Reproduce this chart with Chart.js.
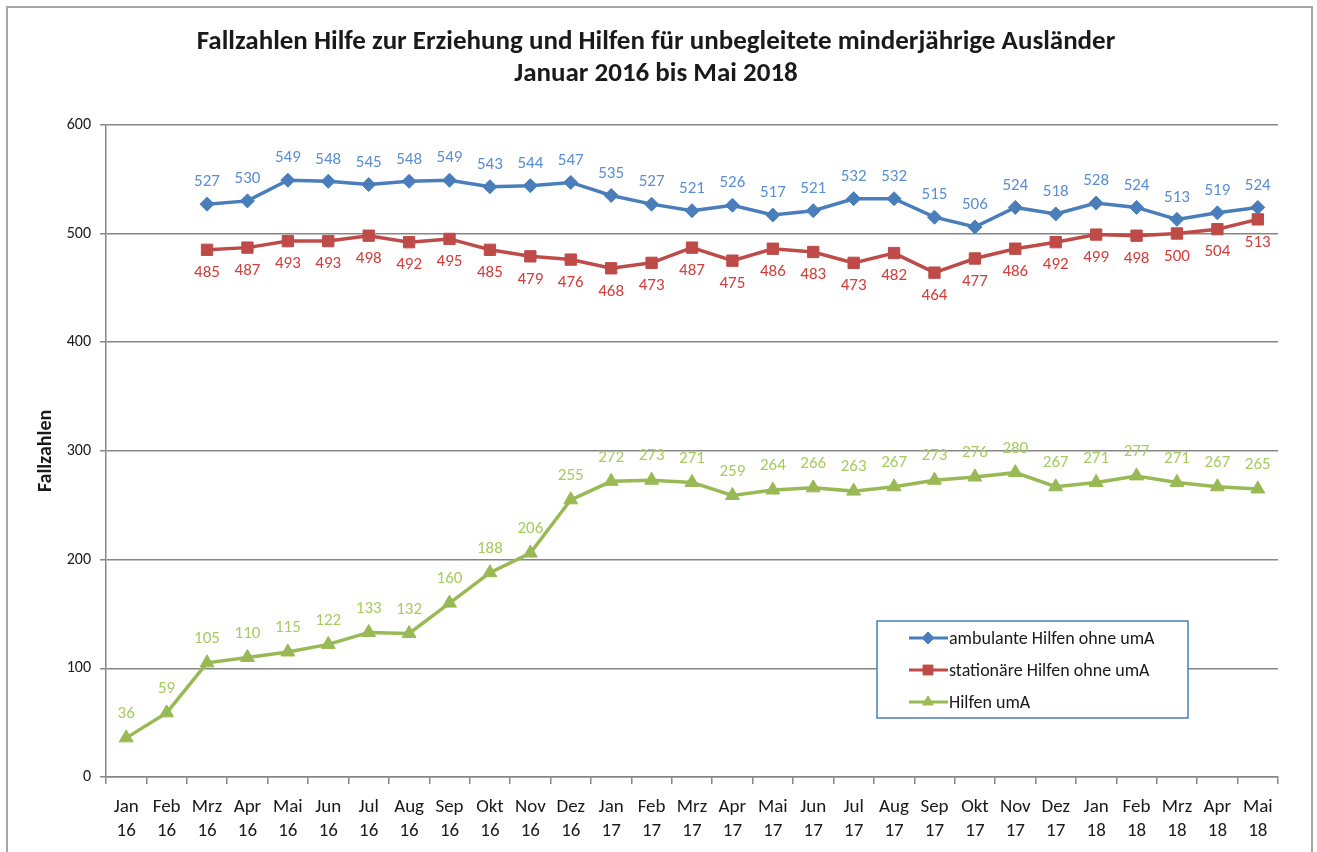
<!DOCTYPE html>
<html>
<head>
<meta charset="utf-8">
<script src="https://cdn.jsdelivr.net/npm/chart.js@4/dist/chart.umd.min.js"></script>
<style>
  html, body { margin: 0; padding: 0; background: #ffffff; }
  #wrap { width: 1317px; height: 852px; position: relative; }
</style>
</head>
<body>
<div id="wrap"><canvas id="fallChart" width="1317" height="852"></canvas></div>
<script>
// Monate Jan 16 bis Mai 18
const months = ["Jan", "Feb", "Mrz", "Apr", "Mai", "Jun", "Jul", "Aug", "Sep", "Okt", "Nov", "Dez",
                "Jan", "Feb", "Mrz", "Apr", "Mai", "Jun", "Jul", "Aug", "Sep", "Okt", "Nov", "Dez",
                "Jan", "Feb", "Mrz", "Apr", "Mai"];
const years = ["16", "16", "16", "16", "16", "16", "16", "16", "16", "16", "16", "16",
               "17", "17", "17", "17", "17", "17", "17", "17", "17", "17", "17", "17",
               "18", "18", "18", "18", "18"];

// Fallzahlen je Reihe (Jan/Feb 16 ohne Werte fuer ambulant/stationaer)
const ambulant = [null, null, 527, 530, 549, 548, 545, 548, 549, 543, 544, 547,
                  535, 527, 521, 526, 517, 521, 532, 532, 515, 506, 524, 518,
                  528, 524, 513, 519, 524];
const stationaer = [null, null, 485, 487, 493, 493, 498, 492, 495, 485, 479, 476,
                    468, 473, 487, 475, 486, 483, 473, 482, 464, 477, 486, 492,
                    499, 498, 500, 504, 513];
const uma = [36, 59, 105, 110, 115, 122, 133, 132, 160, 188, 206, 255,
             272, 273, 271, 259, 264, 266, 263, 267, 273, 276, 280, 267,
             271, 277, 271, 267, 265];

const seriesNames = ["ambulante Hilfen ohne umA", "stationäre Hilfen ohne umA", "Hilfen umA"];
const yTicks = [0, 100, 200, 300, 400, 500, 600];

const FONT = "Carlito, Lato, 'Open Sans', sans-serif";
const labels = months.map((m, i) => [m, years[i]]);

// Werte an den Punkten
const valueLabels = {
    id: 'valueLabels',
    afterDatasetsDraw(chart) {
        const ctx = chart.ctx;
        ctx.save();
        ctx.font = '17px ' + FONT;
        ctx.textAlign = 'center';
        ctx.textBaseline = 'middle';
        chart.data.datasets.forEach((ds, i) => {
            const meta = chart.getDatasetMeta(i);
            ctx.fillStyle = ds.labelColor;
            meta.data.forEach((pt, j) => {
                const v = ds.data[j];
                if (v === null || v === undefined) return;
                ctx.fillText(String(v), pt.x, pt.y + ds.labelShift);
            });
        });
        ctx.restore();
    }
};

// Legende als Kasten im Diagramm
const boxLegend = {
    id: 'boxLegend',
    afterDraw(chart) {
        const ctx = chart.ctx;
        const x = 877, y = 621, w = 311, h = 97;
        ctx.save();
        ctx.fillStyle = '#ffffff';
        ctx.fillRect(x, y, w, h);
        ctx.strokeStyle = '#4a7ebb';
        ctx.lineWidth = 1.5;
        ctx.strokeRect(x, y, w, h);
        ctx.font = '18px ' + FONT;
        ctx.textBaseline = 'middle';
        ctx.textAlign = 'left';
        chart.data.datasets.forEach((ds, i) => {
            const ry = y + 17 + i * 32;
            ctx.strokeStyle = ds.borderColor;
            ctx.lineWidth = 3;
            ctx.beginPath();
            ctx.moveTo(909, ry);
            ctx.lineTo(948, ry);
            ctx.stroke();
            ctx.fillStyle = ds.borderColor;
            ctx.strokeStyle = ds.borderColor;
            ctx.lineWidth = 1;
            Chart.helpers.drawPoint(ctx, {
                pointStyle: ds.pointStyle,
                radius: ds.legendRadius,
                rotation: 0,
                borderWidth: 1
            }, 928, ry);
            ctx.fillStyle = '#1a1a1a';
            ctx.fillText(ds.label, 949, ry + 1);
        });
        ctx.restore();
    }
};

// Rahmen um die ganze Grafik
const outerFrame = {
    id: 'outerFrame',
    beforeDraw(chart) {
        const ctx = chart.ctx;
        ctx.save();
        ctx.fillStyle = '#ffffff';
        ctx.fillRect(0, 0, chart.width, chart.height);
        ctx.strokeStyle = '#a6a6a6';
        ctx.lineWidth = 2;
        ctx.strokeRect(7, 7, 1305, 870);
        ctx.restore();
    }
};

const canvas = document.getElementById('fallChart');
const ctx = canvas.getContext('2d');

new Chart(ctx, {
    type: 'line',
    data: {
        labels: labels,
        datasets: [{
            label: seriesNames[0],
            data: ambulant,
            borderColor: '#4a7ebb',
            backgroundColor: '#4a7ebb',
            borderWidth: 3.5,
            pointStyle: 'rectRot',
            pointRadius: 7,
            pointBorderWidth: 1,
            legendRadius: 6,
            labelColor: '#5b8fd1',
            labelShift: -22,
            tension: 0
        }, {
            label: seriesNames[1],
            data: stationaer,
            borderColor: '#be4b48',
            backgroundColor: '#be4b48',
            borderWidth: 3.5,
            pointStyle: 'rect',
            pointRadius: 8,
            pointBorderWidth: 1,
            legendRadius: 7,
            labelColor: '#d0403c',
            labelShift: 23,
            tension: 0
        }, {
            label: seriesNames[2],
            data: uma,
            borderColor: '#98b954',
            backgroundColor: '#98b954',
            borderWidth: 3.5,
            pointStyle: 'triangle',
            pointRadius: 8,
            pointBorderWidth: 1,
            legendRadius: 6,
            labelColor: '#a6cc60',
            labelShift: -24,
            tension: 0
        }]
    },
    options: {
        responsive: false,
        animation: false,
        spanGaps: false,
        layout: {
            padding: { left: 34, right: 39, top: 0, bottom: 0 }
        },
        plugins: {
            legend: { display: false },
            tooltip: { enabled: false },
            title: {
                display: true,
                text: ["Fallzahlen Hilfe zur Erziehung und Hilfen für unbegleitete minderjährige Ausländer",
                       "Januar 2016 bis Mai 2018"],
                color: '#1a1a1a',
                font: { family: FONT, size: 27, weight: 'bold', lineHeight: 1.2 },
                padding: { top: 26, bottom: 34 }
            }
        },
        scales: {
            x: {
                offset: true,
                afterFit(scale) { scale.height = 75; },
                grid: {
                    offset: true,
                    drawOnChartArea: false,
                    drawTicks: true,
                    tickLength: 7,
                    color: '#868686',
                    lineWidth: 1.5
                },
                border: { color: '#868686', width: 1.5 },
                ticks: {
                    color: '#1a1a1a',
                    font: { family: FONT, size: 19, lineHeight: 1.28 },
                    padding: 11,
                    maxRotation: 0,
                    autoSkip: false
                }
            },
            y: {
                min: 0,
                max: 600,
                afterFit(scale) { scale.width = 72; },
                afterBuildTicks(scale) { scale.ticks = yTicks.map(v => ({ value: v })); },
                title: {
                    display: true,
                    text: 'Fallzahlen',
                    color: '#1a1a1a',
                    font: { family: FONT, size: 20, weight: 'bold' },
                    padding: { top: 0, bottom: 0 }
                },
                grid: {
                    color: '#868686',
                    lineWidth: 1.5,
                    drawTicks: true,
                    tickLength: 6
                },
                border: { color: '#868686', width: 1.5 },
                ticks: {
                    color: '#1a1a1a',
                    font: { family: FONT, size: 16 },
                    padding: 9
                }
            }
        }
    },
    plugins: [outerFrame, valueLabels, boxLegend]
});
</script>
</body>
</html>
